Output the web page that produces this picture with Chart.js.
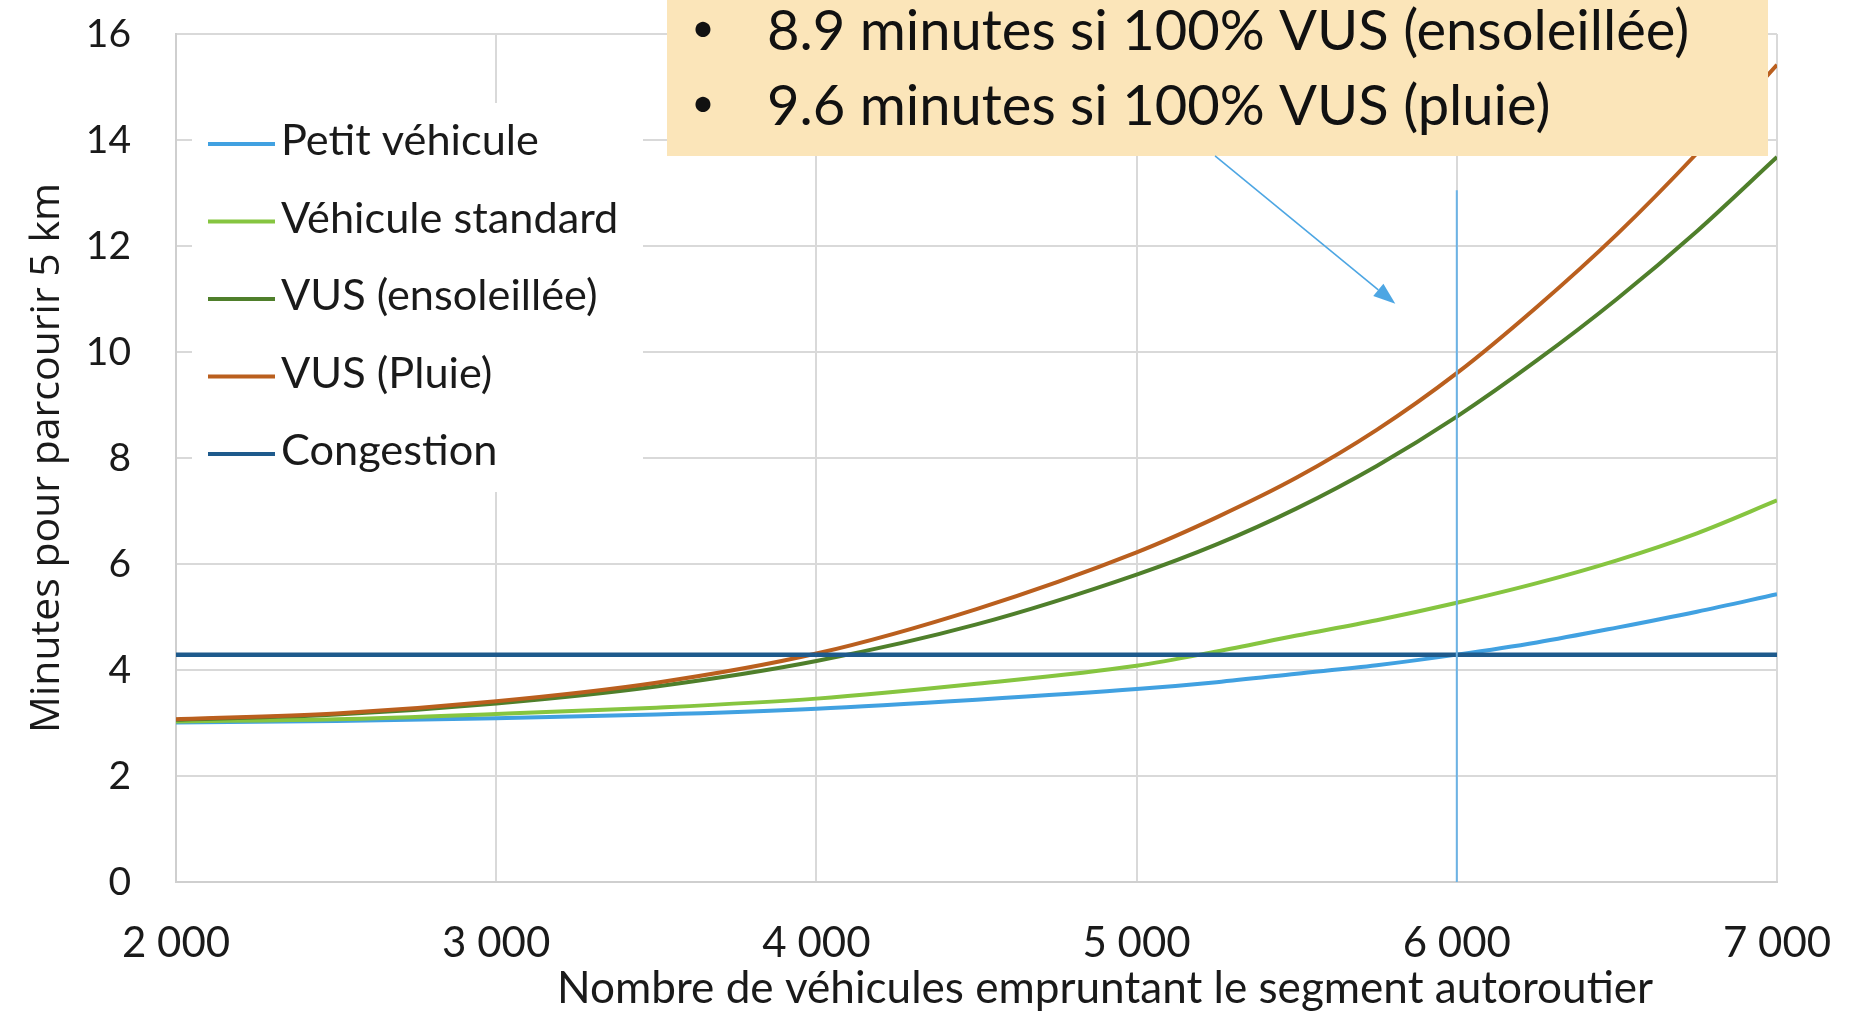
<!DOCTYPE html>
<html><head><meta charset="utf-8">
<script src="https://cdn.jsdelivr.net/npm/chart.js@4.4.1/dist/chart.umd.min.js"></script>
<style>html,body{margin:0;padding:0;background:#fff;overflow:hidden}</style>
</head><body>
<canvas id="c" width="1867" height="1014" style="width:1867px;height:1014px;display:block"></canvas>
<script>
// ---- data ----
const vehicules = [2000,2500,3000,3500,4000,4500,5000,5250,5500,5750,6000,6250,6500,6750,7000];
const petitVehicule    = [3.01,3.04,3.09,3.16,3.27,3.44,3.64,3.77,3.93,4.09,4.29,4.52,4.80,5.10,5.43];
const vehiculeStandard = [3.03,3.07,3.17,3.29,3.46,3.74,4.08,4.35,4.65,4.94,5.27,5.64,6.07,6.58,7.20];
const vusEnsoleillee   = [3.06,3.16,3.37,3.69,4.17,4.86,5.80,6.37,7.05,7.85,8.78,9.84,11.00,12.28,13.68];
const vusPluie         = [3.07,3.18,3.41,3.76,4.31,5.15,6.22,6.88,7.63,8.53,9.60,10.85,12.22,13.75,15.42];
const congestionX = [2000,7000];
const congestionY = [4.29,4.29];
const markerX = [6000,6000];
const markerY = [0,13.05];
const xTicks = [2000,3000,4000,5000,6000,7000];
const yTicks = [0,2,4,6,8,10,12,14,16];
const seriesLabels = ['Petit véhicule','Véhicule standard','VUS (ensoleillée)','VUS (Pluie)','Congestion'];
const noteLines = ['8.9 minutes si 100% VUS (ensoleillée)','9.6 minutes si 100% VUS (pluie)'];
const xTitle = 'Nombre de véhicules empruntant le segment autoroutier';
const yTitle = 'Minutes pour parcourir 5 km';
const arrowFrom = [5245,13.70];
const arrowTo = [5808,10.91];

// ---- styling ----
const colors = ['#41A1E1','#86C540','#4F7F2B','#BA5F1E','#1E5A8C'];
const markerColor = '#6BB3E6';
const FONT = 'Lato, "Open Sans", sans-serif';

function pts(xs, ys){ return xs.map((x,i)=>({x:x,y:ys[i]})); }
function fmt(v){ return String(v).replace(/\B(?=(\d{3})+(?!\d))/g,' '); }

const seriesData = [petitVehicule, vehiculeStandard, vusEnsoleillee, vusPluie];
const drawOrder = [5,4,3,2,1];
const datasets = seriesData.map((ys,i)=>({
  label: seriesLabels[i], data: pts(vehicules, ys), borderColor: colors[i],
  borderWidth: 4, pointRadius: 0, cubicInterpolationMode: 'monotone', order: drawOrder[i], fill:false
}));
datasets.push({label: seriesLabels[4], data: pts(congestionX, congestionY), borderColor: colors[4],
  borderWidth: 4.5, pointRadius: 0, order: 1, fill:false});
datasets.push({label: '_marker', data: pts(markerX, markerY), borderColor: markerColor,
  borderWidth: 2, pointRadius: 0, order: 0, fill:false});

function fitFont(ctx, text, target, family, weight){
  ctx.font = (weight||'') + ' 100px ' + family;
  const w = ctx.measureText(text).width;
  return 100 * target / w;
}

const overlay = {
  id: 'overlay',
  beforeDatasetsDraw(chart){
    const ctx = chart.ctx;
    ctx.save();
    ctx.fillStyle = '#ffffff';
    ctx.fillRect(192, 103, 451, 389);
    ctx.restore();
  },
  afterDatasetsDraw(chart){
    const ctx = chart.ctx;
    const sx = chart.scales.x, sy = chart.scales.y;
    ctx.save();
    // legend
    const legSize = fitFont(ctx, seriesLabels[0], 258, FONT);
    ctx.font = legSize.toFixed(1) + 'px ' + FONT;
    ctx.textBaseline = 'alphabetic';
    ctx.textAlign = 'left';
    for (let i = 0; i < 5; i++) {
      const ry = 144 + i * 77.5;
      ctx.strokeStyle = colors[i];
      ctx.lineWidth = 4;
      ctx.beginPath(); ctx.moveTo(208, ry); ctx.lineTo(275, ry); ctx.stroke();
      ctx.fillStyle = '#1a1a1a';
      ctx.fillText(seriesLabels[i], 281, ry + 11);
    }
    // note box
    ctx.fillStyle = '#FBE5B9';
    ctx.fillRect(667, 0, 1101, 156);
    const noteSize = fitFont(ctx, noteLines[0], 922, FONT);
    ctx.fillStyle = '#111111';
    const base = [50, 125];
    noteLines.forEach((t,i)=>{
      ctx.font = (noteSize * 0.72).toFixed(1) + 'px ' + FONT;
      ctx.textAlign = 'center';
      ctx.fillText('\u2022', 703, base[i] - 8);
      ctx.font = noteSize.toFixed(1) + 'px ' + FONT;
      ctx.textAlign = 'left';
      ctx.fillText(t, 767, base[i]);
    });
    // arrow
    const x1 = sx.getPixelForValue(arrowFrom[0]), y1 = sy.getPixelForValue(arrowFrom[1]);
    const x2 = sx.getPixelForValue(arrowTo[0]), y2 = sy.getPixelForValue(arrowTo[1]);
    const ang = Math.atan2(y2 - y1, x2 - x1);
    const hl = 22, hw = 8;
    const bx = x2 - hl * Math.cos(ang), by = y2 - hl * Math.sin(ang);
    ctx.strokeStyle = '#4DA6E3'; ctx.fillStyle = '#4DA6E3'; ctx.lineWidth = 1.6;
    ctx.beginPath(); ctx.moveTo(x1, y1); ctx.lineTo(bx, by); ctx.stroke();
    ctx.beginPath();
    ctx.moveTo(x2, y2);
    ctx.lineTo(bx + hw * Math.sin(ang), by - hw * Math.cos(ang));
    ctx.lineTo(bx - hw * Math.sin(ang), by + hw * Math.cos(ang));
    ctx.closePath(); ctx.fill();
    // x axis title
    const xtSize = fitFont(ctx, xTitle, 1096, FONT);
    ctx.font = xtSize.toFixed(1) + 'px ' + FONT;
    ctx.fillStyle = '#1a1a1a';
    ctx.textAlign = 'left';
    ctx.fillText(xTitle, 557, 1003);
    ctx.restore();
  }
};

new Chart(document.getElementById('c'), {
  type: 'line',
  data: { datasets: datasets },
  plugins: [overlay],
  options: {
    responsive: false, animation: false, devicePixelRatio: 1,
    layout: { padding: { top: 34, right: 90, left: 0, bottom: 0 } },
    plugins: { legend: { display: false }, tooltip: { enabled: false } },
    scales: {
      x: {
        type: 'linear', min: 2000, max: 7000,
        afterBuildTicks: s => { s.ticks = xTicks.map(v => ({ value: v })); },
        afterFit: s => { s.height = 132; s.paddingLeft = 0; s.paddingRight = 0; },
        grid: { color: '#D9D9D9', lineWidth: 2, drawTicks: false },
        border: { color: '#CFCFCF', width: 2 },
        ticks: { padding: 36, color: '#1a1a1a', font: { family: FONT, size: 42 }, callback: v => fmt(v), maxRotation: 0, autoSkip: false }
      },
      y: {
        type: 'linear', min: 0, max: 16,
        afterBuildTicks: s => { s.ticks = yTicks.map(v => ({ value: v })); },
        afterFit: s => { s.width = 176; s.paddingTop = 34; s.paddingBottom = 0; },
        grid: { color: '#D9D9D9', lineWidth: 2, drawTicks: false },
        border: { color: '#CFCFCF', width: 2 },
        ticks: { padding: 45, color: '#1a1a1a', font: { family: FONT, size: 39 } },
        title: { display: true, text: yTitle, color: '#1a1a1a', font: { family: '"Open Sans", sans-serif', size: 41 }, padding: { top: 23 } }
      }
    }
  }
});
</script>
</body></html>
